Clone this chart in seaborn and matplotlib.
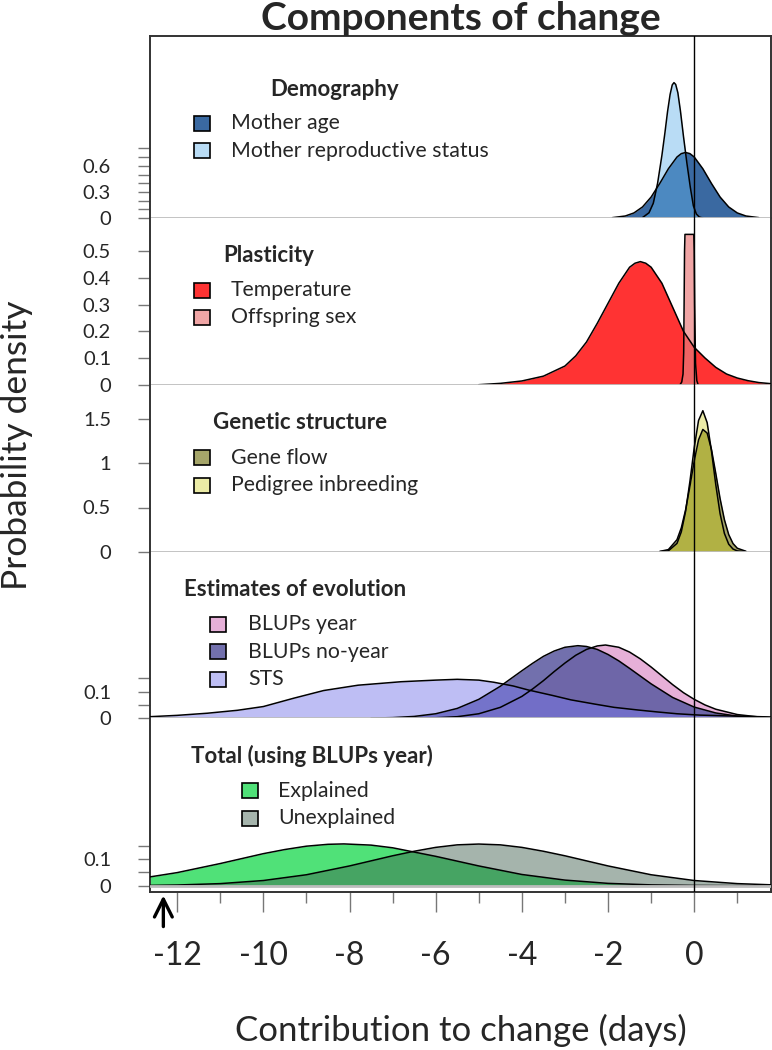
import matplotlib
matplotlib.use("Agg")
import matplotlib.pyplot as plt
from matplotlib.patches import Rectangle
from matplotlib.colors import to_rgba
import seaborn as sns

# ---- values ----
# Demography
mother_age_x = [-1.9, -1.6, -1.4, -1.2, -1.0, -0.8, -0.6, -0.4, -0.3, -0.2, -0.1, 0.0, 0.2, 0.4, 0.6, 0.8, 1.0, 1.2, 1.5]
mother_age_y = [0.004, 0.023, 0.058, 0.127, 0.241, 0.397, 0.566, 0.701, 0.740, 0.753, 0.740, 0.701, 0.566, 0.397, 0.241, 0.127, 0.058, 0.023, 0.004]
mother_rs_x = [-1.2, -1.05, -0.95, -0.85, -0.75, -0.68, -0.62, -0.56, -0.51, -0.47, -0.43, -0.38, -0.32, -0.25, -0.17, -0.09, -0.02, 0.05, 0.12, 0.2]
mother_rs_y = [0.005, 0.06, 0.17, 0.40, 0.72, 0.98, 1.22, 1.42, 1.53, 1.556, 1.535, 1.44, 1.23, 0.94, 0.63, 0.35, 0.14, 0.045, 0.01, 0.0]

# Plasticity
temperature_x = [-5.0, -4.5, -4.0, -3.5, -3.0, -2.75, -2.5, -2.25, -2.0, -1.75, -1.5, -1.375, -1.25, -1.125, -1.0, -0.75, -0.5, -0.25, 0.0, 0.25, 0.5, 0.75, 1.0, 1.25, 1.5, 1.77]
temperature_y = [0.0, 0.005, 0.014, 0.032, 0.07, 0.108, 0.16, 0.23, 0.305, 0.38, 0.44, 0.455, 0.461, 0.455, 0.44, 0.38, 0.29, 0.20, 0.14, 0.10, 0.065, 0.04, 0.025, 0.015, 0.008, 0.004]
offspring_sex_x = [-0.33, -0.29, -0.26, -0.245, -0.235, -0.225, -0.215, -0.01, 0.0, 0.01, 0.03, 0.06, 0.09]
offspring_sex_y = [0.0, 0.01, 0.04, 0.12, 0.30, 0.50, 0.563, 0.563, 0.50, 0.30, 0.08, 0.015, 0.0]

# Genetic structure
genetic_x = [-0.8, -0.6, -0.4, -0.3, -0.2, -0.1, 0.0, 0.1, 0.2, 0.3, 0.4, 0.5, 0.6, 0.7, 0.8, 0.9, 1.0, 1.2]
gene_flow_y = [0.003, 0.024, 0.136, 0.27, 0.474, 0.741, 1.027, 1.265, 1.383, 1.342, 1.157, 0.886, 0.601, 0.363, 0.194, 0.092, 0.039, 0.005]
inbreeding_y = [0.001, 0.010, 0.094, 0.225, 0.458, 0.795, 1.177, 1.484, 1.595, 1.46, 1.14, 0.758, 0.43, 0.207, 0.085, 0.030, 0.009, 0.0]

# Estimates of evolution
blup_year_x = [-7.0, -6.5, -6.0, -5.5, -5.0, -4.5, -4.0, -3.75, -3.5, -3.25, -3.0, -2.75, -2.5, -2.25, -2.06, -1.75, -1.5, -1.25, -1.0, -0.75, -0.5, -0.25, 0.0, 0.25, 0.5, 1.0, 1.5, 1.77]
blup_year_y = [0.0, 0.0005, 0.002, 0.006, 0.017, 0.041, 0.082, 0.110, 0.141, 0.175, 0.207, 0.236, 0.258, 0.271, 0.2745, 0.266, 0.248, 0.2225, 0.192, 0.159, 0.126, 0.096, 0.071, 0.050, 0.034, 0.014, 0.005, 0.002]
blup_noyear_x = [-7.5, -7.0, -6.5, -6.0, -5.5, -5.0, -4.5, -4.25, -4.0, -3.75, -3.5, -3.25, -3.0, -2.7, -2.5, -2.25, -2.0, -1.75, -1.5, -1.25, -1.0, -0.5, 0.0, 0.5, 1.0, 1.5, 1.77]
blup_noyear_y = [0.001, 0.0025, 0.007, 0.017, 0.037, 0.071, 0.120, 0.149, 0.178, 0.206, 0.232, 0.252, 0.266, 0.272, 0.269, 0.258, 0.239, 0.215, 0.187, 0.158, 0.129, 0.078, 0.042, 0.020, 0.008, 0.003, 0.002]
sts_x = [-12.63, -12.0, -11.3, -10.6, -10.0, -9.3, -8.6, -7.8, -6.8, -6.0, -5.5, -5.0, -4.65, -4.2, -3.85, -3.3, -2.86, -2.3, -1.86, -1.3, -0.87, -0.4, 0.12, 0.8, 1.77]
sts_y = [0.006, 0.011, 0.019, 0.030, 0.044, 0.075, 0.104, 0.124, 0.137, 0.143, 0.146, 0.143, 0.135, 0.121, 0.106, 0.086, 0.069, 0.053, 0.041, 0.031, 0.024, 0.017, 0.012, 0.009, 0.005]

# Total (using BLUPs year)
explained_x = [-12.63, -12.0, -11.0, -10.0, -9.5, -9.0, -8.5, -8.13, -7.5, -7.0, -6.0, -5.0, -4.0, -3.0, -2.0, -1.0, 0.0, 1.0, 1.77]
explained_y = [0.033, 0.049, 0.083, 0.120, 0.1355, 0.148, 0.155, 0.1565, 0.152, 0.142, 0.110, 0.074, 0.042, 0.021, 0.0087, 0.0031, 0.001, 0.0003, 0.0]
unexplained_x = [-12.63, -12.0, -11.0, -10.0, -9.0, -8.0, -7.0, -6.5, -6.0, -5.5, -5.0, -4.5, -4.0, -3.5, -3.0, -2.0, -1.0, 0.0, 1.0, 1.77]
unexplained_y = [0.0012, 0.0026, 0.0078, 0.0194, 0.041, 0.074, 0.112, 0.129, 0.1435, 0.153, 0.156, 0.153, 0.1435, 0.129, 0.112, 0.074, 0.041, 0.0194, 0.0078, 0.0034]

x_major = [-12, -10, -8, -6, -4, -2, 0]
x_minor = [-11, -9, -7, -5, -3, -1, 1]

panels = [
    dict(title="Demography",
         series=[("Mother age", mother_age_x, mother_age_y, "#3a69a1", 1.0),
                 ("Mother reproductive status", mother_rs_x, mother_rs_y, "#64b2e9", 0.45)],
         yticks=[0, 0.1, 0.2, 0.3, 0.4, 0.5, 0.6, 0.7, 0.8],
         ylabels=["0", "", "", "0.3", "", "", "0.6", "", ""]),
    dict(title="Plasticity",
         series=[("Temperature", temperature_x, temperature_y, "#ff3333", 1.0),
                 ("Offspring sex", offspring_sex_x, offspring_sex_y, "#ea7b7b", 0.68)],
         yticks=[0, 0.1, 0.2, 0.3, 0.4, 0.5],
         ylabels=["0", "0.1", "0.2", "0.3", "0.4", "0.5"]),
    dict(title="Genetic structure",
         series=[("Gene flow", genetic_x, gene_flow_y, "#a5a569", 1.0),
                 ("Pedigree inbreeding", genetic_x, inbreeding_y, "#c8c800", 0.35)],
         yticks=[0, 0.5, 1, 1.5],
         ylabels=["0", "0.5", "1", "1.5"]),
    dict(title="Estimates of evolution",
         series=[("BLUPs year", blup_year_x, blup_year_y, "#e6b0d8", 1.0),
                 ("BLUPs no-year", blup_noyear_x, blup_noyear_y, "#5e5ca2", 0.88),
                 ("STS", sts_x, sts_y, "#7777ea", 0.48)],
         yticks=[0, 0.05, 0.1, 0.15],
         ylabels=["0", "", "0.1", ""]),
    dict(title="Total (using BLUPs year)",
         series=[("Explained", explained_x, explained_y, "#50e178", 1.0),
                 ("Unexplained", unexplained_x, unexplained_y, "#3b5c4b", 0.46)],
         yticks=[0, 0.05, 0.1, 0.15],
         ylabels=["0", "", "0.1", ""]),
]

sns.set_theme(style="white")
plt.rcParams["font.family"] = ["Lato", "DejaVu Sans"]
plt.rcParams["axes.unicode_minus"] = False

W, H = 772, 1050
fig = plt.figure(figsize=(W / 100, H / 100), dpi=100)

# layout in pixels from the top: panel top, zero line, panel bottom, px per density unit
layout = [(35.7, 218.0, 218.0, 87.0),
          (218.0, 384.7, 384.7, 267.0),
          (384.7, 551.7, 551.7, 88.4),
          (551.7, 718.3, 718.3, 267.0),
          (718.3, 885.7, 892.0, 267.0)]
# key placement: title centre, patch centre x, label x, row y's
keys = [((335, 89), 202, 231, [123, 150.7]),
        ((269, 255), 202, 231, [290, 317.3]),
        ((300, 422.7), 202, 231, [457.7, 485]),
        ((295, 589.3), 218, 248, [624.3, 651.7, 679]),
        ((312, 756), 250, 278, [790.7, 818.3])]

left, right = 150.0, 770.5
for i, (p, (top, zero, bot, ppu)) in enumerate(zip(panels, layout)):
    ax = fig.add_axes([left / W, 1 - bot / H, (right - left) / W, (bot - top) / H])
    for lab, xs, ys, col, a in p["series"]:
        ax.fill_between(xs, ys, 0, color=col, alpha=a, lw=0, zorder=2)
        sns.lineplot(x=xs, y=ys, ax=ax, color="black", lw=1.1, sort=False, zorder=3)
    ax.axhline(0, color="#bdbdbd", lw=2, zorder=4)
    ax.axvline(0, color="black", lw=1, zorder=5)
    ax.set_xlim(-12.63, 1.77)
    ax.set_ylim(-(bot - zero) / ppu, (zero - top) / ppu)
    ax.set_yticks(p["yticks"])
    ax.set_yticklabels(p["ylabels"])
    ax.tick_params(axis="y", direction="out", length=9, width=1, color="#777777",
                   labelsize=14.5, pad=19, left=True)
    ax.set_xlabel("")
    ax.set_ylabel("")
    ax.spines["top"].set_visible(i == 0)
    ax.spines["bottom"].set_visible(i == len(panels) - 1)
    for s in ["left", "right", "top", "bottom"]:
        ax.spines[s].set_color("#333333")
        ax.spines[s].set_linewidth(1.4)
    if i < len(panels) - 1:
        ax.set_xticks([])
    else:
        ax.set_xticks(x_major)
        ax.set_xticklabels([str(v) for v in x_major])
        ax.set_xticks(x_minor, minor=True)
        ax.tick_params(axis="x", which="major", direction="out", length=14.5, width=1,
                       color="#777777", labelsize=23, pad=21, bottom=True)
        ax.tick_params(axis="x", which="minor", direction="out", length=8, width=1,
                       color="#777777", bottom=True)
        ax.annotate("", xy=(-12.32, -0.004), xycoords=("data", "axes fraction"),
                    xytext=(-12.32, -0.215), textcoords=("data", "axes fraction"),
                    arrowprops=dict(arrowstyle="->", lw=2.4, color="black",
                                    mutation_scale=32),
                    annotation_clip=False)

    # key
    (tx, ty), px, lx, rows = keys[i]
    fig.text(tx / W, 1 - ty / H, p["title"], ha="center", va="center",
             fontsize=16, fontweight="bold")
    for (lab, xs, ys, col, a), ry in zip(p["series"], rows):
        fig.add_artist(Rectangle(((px - 8) / W, 1 - (ry + 7.5) / H), 16 / W, 15 / H,
                                 transform=fig.transFigure, facecolor=to_rgba(col, a),
                                 edgecolor="black", lw=1.2))
        fig.text(lx / W, 1 - ry / H, lab, ha="left", va="center", fontsize=15.3)

fig.text(460.5 / W, 1 - 18 / H, "Components of change", ha="center", va="center",
         fontsize=28, fontweight="bold")
fig.text(460.5 / W, 1 - 1030 / H, "Contribution to change (days)", ha="center",
         va="center", fontsize=25)
fig.text(17 / W, 1 - 445 / H, "Probability density", ha="center", va="center",
         rotation=90, fontsize=25.5)

fig.savefig("out.png", dpi=100)
